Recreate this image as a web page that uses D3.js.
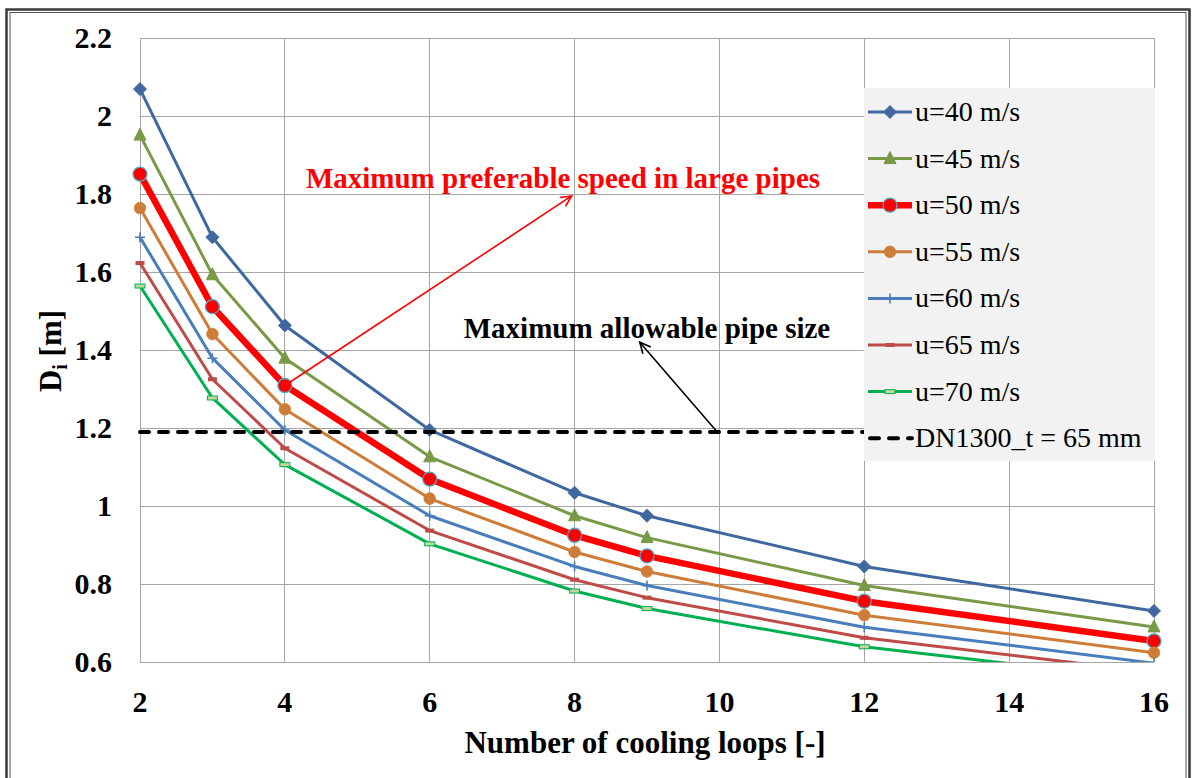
<!DOCTYPE html>
<html>
<head>
<meta charset="utf-8">
<script src="https://cdn.jsdelivr.net/npm/d3@7/dist/d3.min.js"></script>
<style>
  html, body { margin: 0; padding: 0; background: #fff; }
  svg { display: block; }
  text { font-family: "Liberation Serif", "Times New Roman", serif; }
</style>
</head>
<body>
<svg id="chart" width="1192" height="778"></svg>
<script>
// ---------- data ----------
const loops = [2, 3, 4, 6, 8, 9, 12, 16];
const seriesNames = ["u=40 m/s", "u=45 m/s", "u=50 m/s", "u=55 m/s", "u=60 m/s", "u=65 m/s", "u=70 m/s"];
const u40 = [2.069, 1.689, 1.463, 1.195, 1.034, 0.975, 0.845, 0.731];
const u45 = [1.951, 1.593, 1.379, 1.126, 0.975, 0.919, 0.796, 0.690];
const u50 = [1.851, 1.511, 1.309, 1.069, 0.925, 0.872, 0.756, 0.654];
const u55 = [1.764, 1.441, 1.248, 1.019, 0.882, 0.832, 0.720, 0.624];
const u60 = [1.689, 1.379, 1.195, 0.975, 0.845, 0.796, 0.689, 0.597];
const u65 = [1.623, 1.325, 1.148, 0.937, 0.811, 0.765, 0.662, 0.574];
const u70 = [1.564, 1.277, 1.106, 0.903, 0.782, 0.737, 0.639, 0.553];
const limitName = "DN1300_t = 65 mm";
const limitValue = 1.19;
const xTicks = [2, 4, 6, 8, 10, 12, 14, 16];
const yTicks = [0.6, 0.8, 1, 1.2, 1.4, 1.6, 1.8, 2, 2.2];
const xTitle = "Number of cooling loops [-]";
const noteRed = "Maximum preferable speed in large pipes";
const noteBlack = "Maximum allowable pipe size";

// ---------- styles ----------
const styles = [
  { color: "#4068a0", width: 3, marker: "diamond" },
  { color: "#789a46", width: 3, marker: "triangle" },
  { color: "#ff0000", width: 6.5, marker: "bigcircle" },
  { color: "#cd7d37", width: 3, marker: "circle" },
  { color: "#4a7ebb", width: 3, marker: "plus" },
  { color: "#be4b48", width: 3, marker: "dash" },
  { color: "#00b050", width: 3, marker: "bar" }
];
const allSeries = [u40, u45, u50, u55, u60, u65, u70];

const svg = d3.select("#chart");
const x = d3.scaleLinear().domain([2, 16]).range([140, 1154]);
const y = d3.scaleLinear().domain([0.6, 2.2]).range([662, 38]);

// outer double frame
svg.append("rect").attr("x", 6.5).attr("y", 9.5).attr("width", 1183).attr("height", 790)
  .attr("fill", "none").attr("stroke", "#3a3a3a").attr("stroke-width", 2.5);
svg.append("rect").attr("x", 10).attr("y", 12.5).attr("width", 1176).attr("height", 790)
  .attr("fill", "none").attr("stroke", "#555").attr("stroke-width", 1);

// gridlines
const grid = svg.append("g").attr("stroke", "#a6a6a6").attr("stroke-width", 1).attr("shape-rendering", "crispEdges");
grid.selectAll("line.gx").data(xTicks).join("line")
  .attr("x1", d => x(d)).attr("x2", d => x(d)).attr("y1", y(2.2)).attr("y2", y(0.6));
grid.selectAll("line.gy").data(yTicks).join("line")
  .attr("x1", x(2)).attr("x2", x(16)).attr("y1", d => y(d)).attr("y2", d => y(d));

// tick labels
svg.append("g").selectAll("text").data(yTicks).join("text")
  .attr("x", 112).attr("y", d => y(d) + 10)
  .attr("text-anchor", "end").attr("font-size", 30).attr("font-weight", "bold")
  .text(d => d3.format("~g")(d));
svg.append("g").selectAll("text").data(xTicks).join("text")
  .attr("x", d => x(d)).attr("y", 712)
  .attr("text-anchor", "middle").attr("font-size", 30).attr("font-weight", "bold")
  .text(d => d);

// axis titles
svg.append("text").attr("x", 645).attr("y", 753).attr("text-anchor", "middle")
  .attr("font-size", 31).attr("font-weight", "bold").text(xTitle);
const yt = svg.append("text").attr("transform", "translate(61,351) rotate(-90)")
  .attr("text-anchor", "middle").attr("font-size", 31).attr("font-weight", "bold");
yt.append("tspan").text("D");
yt.append("tspan").attr("font-size", 20).attr("dy", 6).text("i");
yt.append("tspan").attr("dy", -6).text(" [m]");

// clip
svg.append("clipPath").attr("id", "plotclip").append("rect")
  .attr("x", x(2) - 10).attr("y", y(2.2) - 10).attr("width", x(16) - x(2) + 20).attr("height", y(0.6) - y(2.2) + 10);

const plot = svg.append("g").attr("clip-path", "url(#plotclip)");
const line = d3.line().x((d, i) => x(loops[i])).y(d => y(d));

function drawMarker(g, type, color, cx, cy) {
  if (type === "diamond") {
    g.append("path").attr("d", `M${cx},${cy-6.5}L${cx+6.5},${cy}L${cx},${cy+6.5}L${cx-6.5},${cy}Z`)
      .attr("fill", color).attr("stroke", color).attr("stroke-width", 1);
  } else if (type === "triangle") {
    g.append("path").attr("d", `M${cx},${cy-7}L${cx+6},${cy+5}L${cx-6},${cy+5}Z`)
      .attr("fill", color).attr("stroke", color).attr("stroke-width", 1);
  } else if (type === "bigcircle") {
    g.append("circle").attr("cx", cx).attr("cy", cy).attr("r", 7)
      .attr("fill", "#ff0000").attr("stroke", "#4bacc6").attr("stroke-width", 1.3);
  } else if (type === "circle") {
    g.append("circle").attr("cx", cx).attr("cy", cy).attr("r", 5.8)
      .attr("fill", color).attr("stroke", color).attr("stroke-width", 0.8);
  } else if (type === "plus") {
    g.append("path").attr("d", `M${cx-5},${cy}H${cx+5}M${cx},${cy-5}V${cy+5}`)
      .attr("stroke", color).attr("stroke-width", 1.6).attr("fill", "none");
  } else if (type === "dash") {
    g.append("rect").attr("x", cx - 4.5).attr("y", cy - 2).attr("width", 9).attr("height", 4)
      .attr("fill", color);
  } else if (type === "bar") {
    g.append("rect").attr("x", cx - 5).attr("y", cy - 2).attr("width", 10).attr("height", 4)
      .attr("fill", "#c3d69b").attr("stroke", color).attr("stroke-width", 1);
  }
}

allSeries.forEach((vals, si) => {
  const st = styles[si];
  const g = plot.append("g");
  g.append("path").datum(vals).attr("d", line)
    .attr("fill", "none").attr("stroke", st.color).attr("stroke-width", st.width)
    .attr("stroke-linejoin", "round");
  vals.forEach((v, i) => {
    if (v >= 0.595) drawMarker(g, st.marker, st.color, x(loops[i]), y(v));
  });
});

// limit line (runs under the legend box)
plot.append("line").attr("x1", x(2)).attr("x2", x(12.5)).attr("y1", y(limitValue)).attr("y2", y(limitValue))
  .attr("stroke", "#000").attr("stroke-width", 4).attr("stroke-dasharray", "9,10").attr("stroke-linecap", "round");

// legend
const legend = svg.append("g");
legend.append("rect").attr("x", 864).attr("y", 88).attr("width", 291).attr("height", 373).attr("fill", "#f2f2f2");
const legendNames = seriesNames.concat([limitName]);
legendNames.forEach((name, i) => {
  const ly = 112 + i * 46.6;
  const g = legend.append("g");
  if (i < 7) {
    const st = styles[i];
    g.append("line").attr("x1", 868).attr("x2", 912).attr("y1", ly).attr("y2", ly)
      .attr("stroke", st.color).attr("stroke-width", st.width);
    drawMarker(g, st.marker, st.color, 890, ly);
  } else {
    g.append("line").attr("x1", 870).attr("x2", 912).attr("y1", ly).attr("y2", ly)
      .attr("stroke", "#000").attr("stroke-width", 4).attr("stroke-dasharray", "9,10").attr("stroke-linecap", "round");
  }
  g.append("text").attr("x", 915).attr("y", ly + 9).attr("font-size", 28).attr("fill", "#000").text(name);
});

// annotations
function arrow(x1, y1, x2, y2, color) {
  const g = svg.append("g").attr("stroke", color).attr("stroke-width", 1.6).attr("fill", "none");
  g.append("line").attr("x1", x1).attr("y1", y1).attr("x2", x2).attr("y2", y2);
  const ang = Math.atan2(y2 - y1, x2 - x1);
  const L = 12, a = 0.45;
  g.append("path").attr("d",
    `M${x2 - L * Math.cos(ang - a)},${y2 - L * Math.sin(ang - a)}L${x2},${y2}L${x2 - L * Math.cos(ang + a)},${y2 - L * Math.sin(ang + a)}`);
}
arrow(x(4), y(1.309), x(7.96), y(1.795), "#ff0000");
arrow(x(9.97), y(1.19), x(8.9), y(1.42), "#000");

svg.append("text").attr("x", x(7.84)).attr("y", y(1.815)).attr("text-anchor", "middle")
  .attr("font-size", 29).attr("font-weight", "bold").attr("fill", "#ff0000").text(noteRed);
svg.append("text").attr("x", x(9.0)).attr("y", y(1.431)).attr("text-anchor", "middle")
  .attr("font-size", 29).attr("font-weight", "bold").attr("fill", "#000").text(noteBlack);
</script>
</body>
</html>
